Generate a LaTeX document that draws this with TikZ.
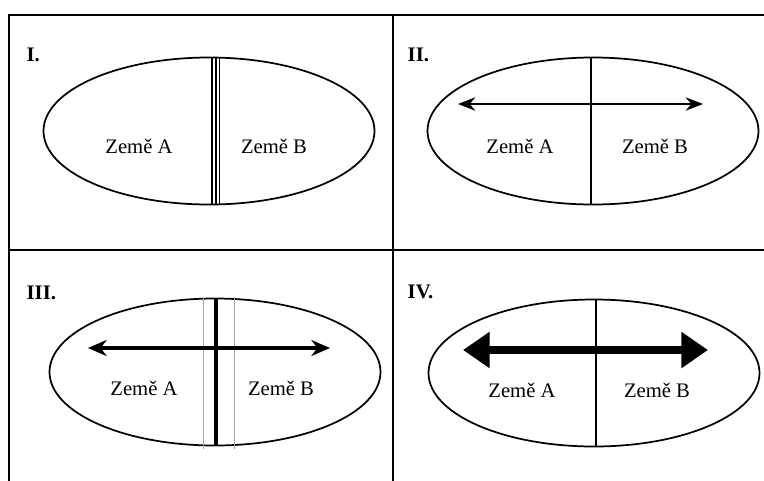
\documentclass[tikz,border=0pt]{standalone}
\usepackage{fontspec}
\setmainfont{Liberation Serif}
\usetikzlibrary{shapes.geometric,arrows.meta}
\tikzset{
  land/.style={ellipse, draw, line width=1.3pt, minimum width=331*0.75pt, minimum height=147*0.75pt, inner sep=0pt},
  country/.style={font=\fontsize{15.5}{18}\selectfont},
  cellno/.style={font=\fontsize{15.5}{18}\selectfont\bfseries, anchor=west},
  grid/.style={line width=1.8pt},
  border/.style={line width=1.7pt}
}
\begin{document}
\begin{tikzpicture}[x=0.75pt, y=-0.75pt]
    \useasboundingbox (0,0) rectangle (764,480);
    % Grid of four cells
    \draw[grid] (9,485) -- (9,15) -- (775,15);
    \draw[grid] (393,15) -- (393,485);
    \draw[grid] (9,250) -- (775,250);

    % I.
    \node[cellno] (L1) at (22,55) {I.};
    \node[land] (E1) at (209,131) {};
    \node[country] (A1) at (139,146) {Země A};
    \node[country] (B1) at (274,146) {Země B};
    \draw[line width=1.3pt] (212.3,58) -- (212.3,204);
    \draw[line width=1.1pt] (216,58) -- (216,204);
    \draw[line width=0.8pt] (219.7,58) -- (219.7,204);

    % II.
    \node[cellno] (L2) at (403,55) {II.};
    \node[land] (E2) at (593,131) {};
    \node[country] (A2) at (520,146) {Země A};
    \node[country] (B2) at (655,146) {Země B};
    \draw[border] (591,58) -- (591,204);
    \coordinate (W2) at (458,104);
    \coordinate (O2) at (703,104);
    \draw[line width=1.5pt, {Stealth[length=13pt, width=10pt]}-{Stealth[length=13pt, width=10pt]}] (W2) -- (O2);

    % III.
    \node[cellno] (L3) at (22,293) {III.};
    \node[land] (E3) at (215,372) {};
    \node[country] (A3) at (144,388) {Země A};
    \node[country] (B3) at (281,388) {Země B};
    \draw[line width=0.6pt, gray!70] (203,297) -- (203,449);
    \draw[line width=0.6pt, gray!70] (234,297) -- (234,449);
    \draw[line width=2.4pt] (216,298) -- (216,446);
    \coordinate (W3) at (88,348);
    \coordinate (O3) at (330,348);
    \draw[line width=2.6pt, {Stealth[length=14pt, width=12pt]}-{Stealth[length=14pt, width=12pt]}] (W3) -- (O3);

    % IV.
    \node[cellno] (L4) at (403,292) {IV.};
    \node[land] (E4) at (594,373) {};
    \node[country] (A4) at (522,390) {Země A};
    \node[country] (B4) at (657,390) {Země B};
    \draw[border] (596,300) -- (596,447);
    \coordinate (W4) at (463,350);
    \coordinate (O4) at (708,350);
    \draw[line width=6pt, {Triangle[length=20pt, width=26pt]}-{Triangle[length=20pt, width=26pt]}] (W4) -- (O4);
\end{tikzpicture}
\end{document}
